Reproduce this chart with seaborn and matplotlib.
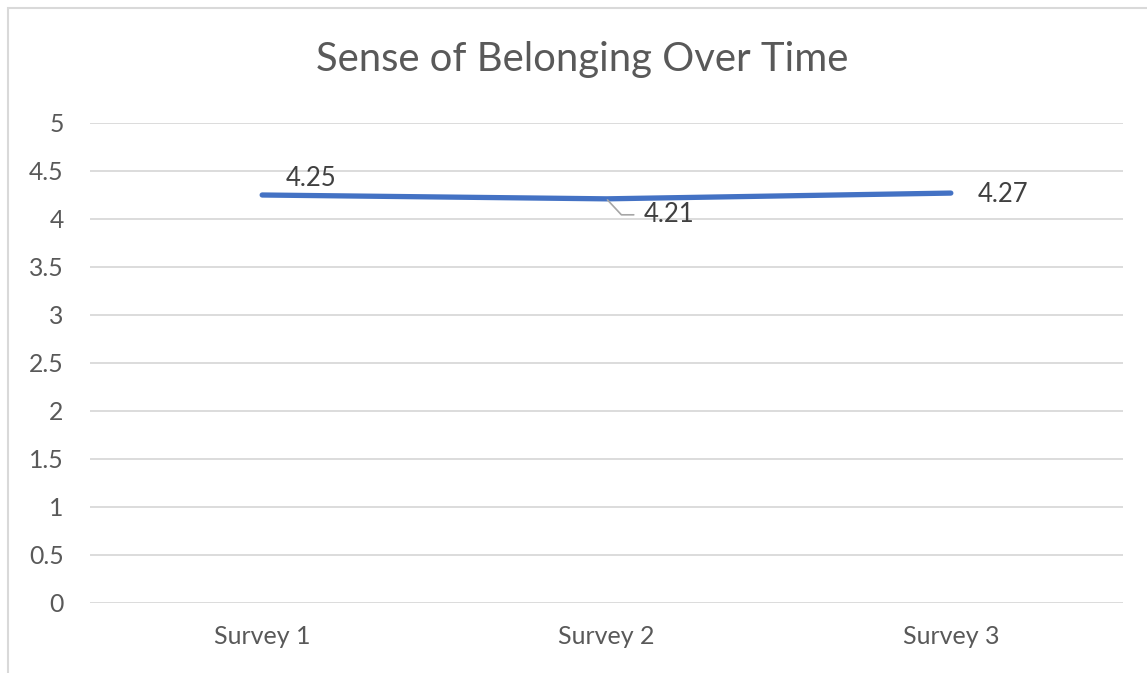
import matplotlib
matplotlib.use("Agg")
import matplotlib.pyplot as plt
import seaborn as sns
import pandas as pd
from matplotlib.patches import Rectangle

categories = ["Survey 1", "Survey 2", "Survey 3"]
values = [4.25, 4.21, 4.27]
y_ticks = [0, 0.5, 1, 1.5, 2, 2.5, 3, 3.5, 4, 4.5, 5]
y_tick_labels = ["0", "0.5", "1", "1.5", "2", "2.5", "3", "3.5", "4", "4.5", "5"]
title = "Sense of Belonging Over Time"

sns.set_theme(style="white")
plt.rcParams['font.family'] = ['Lato', 'DejaVu Sans']

df = pd.DataFrame({"survey": categories, "score": values})

fig = plt.figure(figsize=(11.47, 6.73), dpi=100)
ax = fig.add_axes([90/1147, 1 - 603/673, (1123-90)/1147, (603-123)/673])

sns.lineplot(data=df, x="survey", y="score", ax=ax, color="#4472C4",
             linewidth=3.8, solid_capstyle="round", sort=False)

ax.set_xlim(-0.5, 2.5)
ax.set_ylim(0, 5)
ax.set_yticks(y_ticks)
ax.set_yticklabels(y_tick_labels)
ax.yaxis.grid(True, color="#D9D9D9", linewidth=1.3)
ax.set_axisbelow(True)
for s in ax.spines.values():
    s.set_visible(False)
ax.tick_params(axis="y", length=0, pad=19, labelsize=17.8, labelcolor="#595959")
ax.tick_params(axis="x", length=0, pad=16, labelsize=18, labelcolor="#595959")
ax.set_xlabel("")
ax.set_ylabel("")

# data labels
lab_kw = dict(textcoords="offset points", fontsize=18.5, color="#404040")
ax.annotate(f"{values[0]:.2f}", (0, values[0]), xytext=(35, 12), ha="center", va="center", **lab_kw)
ax.annotate(f"{values[1]:.2f}", (1, values[1]), xytext=(27, -11.5), ha="left", va="center",
            arrowprops=dict(arrowstyle="-", color="#A6A6A6", lw=1.2, shrinkA=5, shrinkB=1,
                            connectionstyle="angle,angleA=0,angleB=-47,rad=0"), **lab_kw)
ax.annotate(f"{values[2]:.2f}", (2, values[2]), xytext=(19, -1), ha="left", va="center", **lab_kw)

fig.text(582/1147, 1 - 60/673, title, ha="center", va="center", fontsize=28.8, color="#595959")

# chart frame
fig.patches.append(Rectangle((8/1147, -0.1), 1.2, 1 - 8/673 + 0.1, transform=fig.transFigure,
                             fill=False, edgecolor="#D9D9D9", linewidth=1.5))

fig.savefig("out.png", dpi=100)
